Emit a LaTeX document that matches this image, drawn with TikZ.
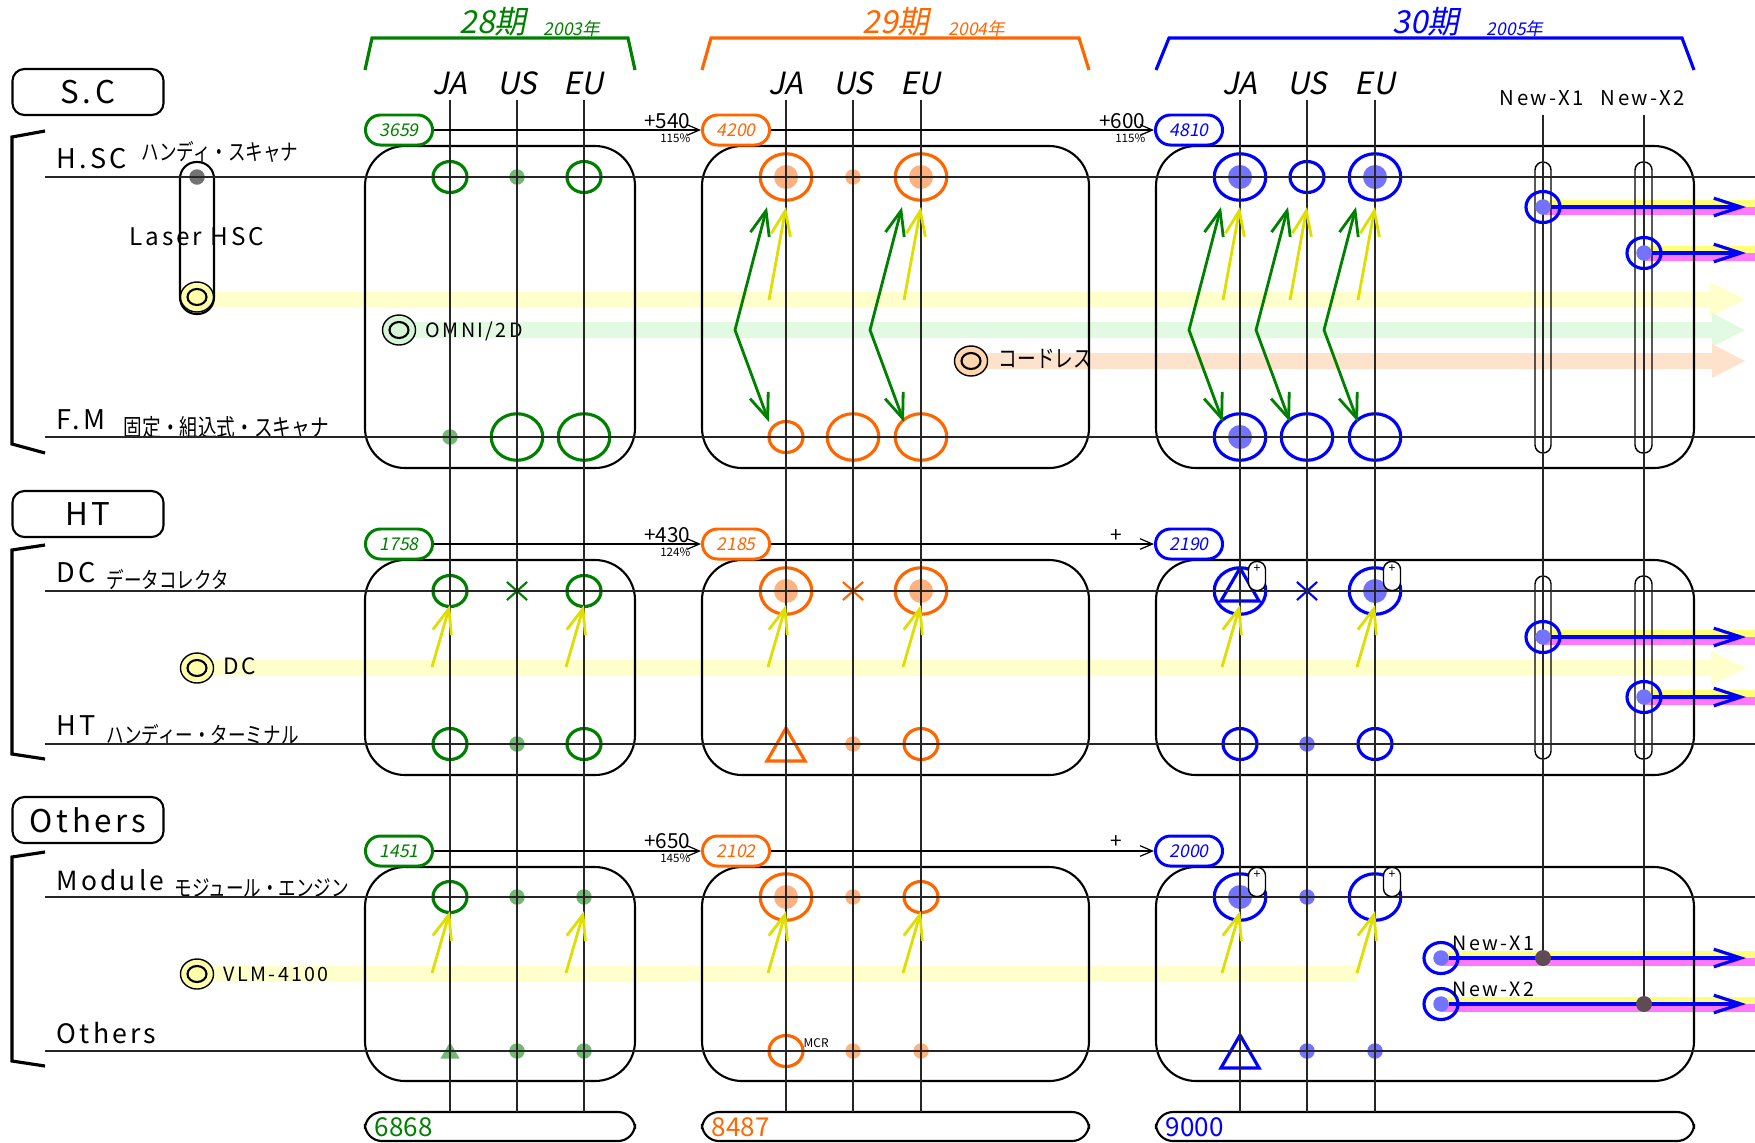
\documentclass[tikz,border=0pt]{standalone}
\usepackage{fontspec}
\setmainfont{Noto Sans CJK JP}
\newfontfamily\slfont[FakeSlant=0.2]{Noto Sans CJK JP}
\newfontfamily\spfont[LetterSpace=12]{Noto Sans CJK JP}
\newfontfamily\jpfont[FakeStretch=0.78]{Noto Sans CJK JP}
\usetikzlibrary{shapes.geometric,shapes.misc,arrows.meta}
\definecolor{cA}{RGB}{0,128,0}
\definecolor{cB}{RGB}{255,102,0}
\definecolor{cC}{RGB}{0,0,255}
\colorlet{dotA}{cA!55}
\colorlet{dotB}{cB!50}
\colorlet{dotC}{cC!55}
\definecolor{arrY}{RGB}{222,222,0}
\definecolor{bandY}{RGB}{255,255,204}
\definecolor{bandG}{RGB}{226,250,226}
\definecolor{bandO}{RGB}{255,226,204}
\definecolor{mkY}{RGB}{255,255,170}
\definecolor{mkG}{RGB}{214,245,214}
\definecolor{mkO}{RGB}{255,214,176}
\definecolor{newY}{RGB}{255,255,120}
\definecolor{newM}{RGB}{255,120,255}
\definecolor{dk}{RGB}{95,75,85}
\begin{document}
\begin{tikzpicture}[x=0.01cm,y=-0.01cm,
    fs/.style={font=\fontsize{#1}{#1}\selectfont},
    sl/.style={font=\slfont\fontsize{#1}{#1}\selectfont},
    sp/.style={font=\spfont\fontsize{#1}{#1}\selectfont},
    jp/.style={font=\jpfont\fontsize{#1}{#1}\selectfont},
    catbox/.style={draw,line width=0.6pt,rounded corners=0.12cm,minimum width=1.51cm,minimum height=0.46cm,inner sep=0pt,sp=8.9pt},
    badge/.style={draw=#1,text=#1,line width=0.85pt,rounded corners=0.15cm,minimum width=0.67cm,minimum height=0.30cm,inner sep=0pt,sl=5pt},
    panel/.style={line width=0.6pt,rounded corners=0.4cm},
    capsule/.style={line width=0.4pt,rounded corners=0.08cm},
    smallo/.style={ellipse,draw=#1,line width=0.9pt,minimum width=0.34cm,minimum height=0.31cm,inner sep=0pt},
    bigo/.style={ellipse,draw=#1,line width=0.9pt,minimum width=0.515cm,minimum height=0.465cm,inner sep=0pt},
    fdot/.style={circle,fill=#1,inner sep=0pt,minimum size=0.155cm},
    fcore/.style={circle,fill=#1,inner sep=0pt,minimum size=0.24cm},
    xmark/.style={cross out,draw=#1,line width=0.6pt,minimum width=0.18cm,minimum height=0.16cm,inner sep=0pt},
    tri/.style={regular polygon,regular polygon sides=3,inner sep=0pt,minimum size=0.44cm},
    mkr/.style={ellipse,draw,line width=0.4pt,fill=#1,minimum width=0.33cm,minimum height=0.30cm,inner sep=0pt,
      path picture={\draw[line width=0.6pt] (path picture bounding box.center) ellipse (0.095cm and 0.08cm);}},
    plusbox/.style={draw,fill=white,line width=0.4pt,rounded corners=0.08cm,minimum width=0.17cm,minimum height=0.29cm,inner sep=0pt},
    yarr/.style={arrY,line width=0.8pt,-{Straight Barb[length=7pt,width=5.5pt]}},
    garr/.style={cA,line width=0.8pt,{Straight Barb[length=7pt,width=5.5pt]}-{Straight Barb[length=7pt,width=5.5pt]}},
    narr/.style={cC,line width=0.9pt,-{Straight Barb[length=7.7pt,width=5pt]}},
    incr/.style={line width=0.35pt,-{Straight Barb[length=3.5pt,width=3pt]}},
    thinln/.style={line width=0.4pt,black!85},
    lbl/.style={anchor=base west,inner sep=0pt}
]
\useasboundingbox (0,0) rectangle (1755,1142);

% bands
\fill[bandY] (197,292) -- (1710,292) -- (1710,282) -- (1745,299.5) -- (1710,317) -- (1710,307) -- (197,307) -- cycle;
\fill[bandG] (399,322) -- (1712,322) -- (1712,313) -- (1745,330) -- (1712,347) -- (1712,338) -- (399,338) -- cycle;
\fill[bandO] (971,353) -- (1712,353) -- (1712,344) -- (1745,361) -- (1712,378) -- (1712,369) -- (971,369) -- cycle;
\fill[bandY] (197,660) -- (1711,660) -- (1711,651) -- (1746,668) -- (1711,685) -- (1711,676) -- (197,676) -- cycle;
\fill[bandY] (197,966) rectangle (1358,982);
\foreach \x/\y in {1543/207,1644/253,1543/637,1644/697,1441/958,1441/1004} {
  \fill[newY] (\x,\y-7) rectangle (1755,\y);
  \fill[newM] (\x,\y) rectangle (1755,\y+8);
}

% headers
\node[sl=9pt,text=cA] (pA) at (493,22) {28期};
\node[sl=5pt,text=cA,lbl] (yA) at (543,35) {2003年};
\node[sl=9pt,text=cB] (pB) at (896,22) {29期};
\node[sl=5pt,text=cB,lbl] (yB) at (948,35) {2004年};
\node[sl=9pt,text=cC] (pC) at (1426,22) {30期};
\node[sl=5pt,text=cC,lbl] (yC) at (1486,35) {2005年};
\draw[cA,line width=0.9pt] (365,70) -- (372,38) -- (628,38) -- (635,70);
\draw[cB,line width=0.9pt] (702,70) -- (711,38) -- (1079,38) -- (1089,70);
\draw[cC,line width=0.9pt] (1156,70) -- (1169,38) -- (1682,38) -- (1694,70);
\foreach \x/\t in {450/JA,517/US,584/EU,786/JA,853/US,921/EU,1240/JA,1307/US,1375/EU}
  \node[sl=8.7pt] (h\x) at (\x,83) {\t};
\node[sp=5.8pt] (hX1) at (1542,98) {New-X1};
\node[sp=5.8pt] (hX2) at (1643,98) {New-X2};

% left side
\node[catbox] (sc) at (88,92) {S.C};
\node[catbox] (ht) at (88,514) {HT};
\node[catbox] (ot) at (88,820) {Others};
\draw[line width=0.9pt] (45,131) -- (12,137) -- (12,444) -- (45,453);
\draw[line width=0.9pt] (45,545) -- (12,550) -- (12,754) -- (45,759);
\draw[line width=0.9pt] (45,852) -- (12,857) -- (12,1061) -- (45,1066);
\node[sp=7.7pt,lbl] (lHSC) at (56,168) {H.SC};
\node[jp=6.4pt,lbl] (jHSC) at (141,160) {ハンディ・スキャナ};
\node[sp=6.9pt,lbl] (lLaser) at (129,245) {Laser HSC};
\node[sp=7.7pt,lbl] (lFM) at (56,429) {F.M};
\node[jp=6.8pt,lbl] (jFM) at (123,436) {固定・組込式・スキャナ};
\node[sp=7.7pt,lbl] (lDC) at (56,582) {DC};
\node[jp=6.4pt,lbl] (jDC) at (106,588) {データコレクタ};
\node[sp=7.7pt,lbl] (lHT) at (56,735) {HT};
\node[jp=6.4pt,lbl] (jHT) at (106,743) {ハンディー・ターミナル};
\node[sp=7.5pt,lbl] (lMod) at (56,890) {Module};
\node[jp=6.4pt,lbl] (jMod) at (174,896) {モジュール・エンジン};
\node[sp=7.6pt,lbl] (lOth) at (56,1043) {Others};

% panels
\foreach \xa/\xb in {365/635,702/1089,1156/1694} {
  \foreach \ya/\yb in {146/468,560/775,867/1081}
    \draw[panel] (\xa,\ya) rectangle (\xb,\yb);
  \draw[line width=0.6pt,rounded corners=0.17cm] (\xa,1112) rectangle (\xb,1141);
}
\draw[line width=0.6pt,rounded corners=0.165cm] (180,162) rectangle (214,314);
\draw[capsule] (1535,162) rectangle (1551,453);
\draw[capsule] (1635,162) rectangle (1652,453);
\draw[capsule] (1535,576) rectangle (1551,759);
\draw[capsule] (1635,576) rectangle (1652,759);

% markers 28
\node[smallo=cA] (sAja) at (450,177) {};
\node[fdot=dotA] (sAus) at (517,177) {};
\node[smallo=cA] (sAeu) at (584,177) {};
\node[fdot=dotA] (fAja) at (450,437) {};
\node[bigo=cA] (fAus) at (517,437) {};
\node[bigo=cA] (fAeu) at (584,437) {};
\node[smallo=cA] (dAja) at (450,591) {};
\node[xmark=cA] (dAus) at (517,591) {};
\node[smallo=cA] (dAeu) at (584,591) {};
\node[smallo=cA] (hAja) at (450,744) {};
\node[fdot=dotA] (hAus) at (517,744) {};
\node[smallo=cA] (hAeu) at (584,744) {};
\node[smallo=cA] (mAja) at (450,897) {};
\node[fdot=dotA] (mAus) at (517,897) {};
\node[fdot=dotA] (mAeu) at (584,897) {};
\node[tri,fill=dotA,minimum size=0.22cm] (oAja) at (450,1053) {};
\node[fdot=dotA] (oAus) at (517,1051) {};
\node[fdot=dotA] (oAeu) at (584,1051) {};

% markers 29
\node[fcore=dotB] (sBjac) at (786,177) {};
\node[bigo=cB] (sBja) at (786,177) {};
\node[fdot=dotB] (sBus) at (853,177) {};
\node[fcore=dotB] (sBeuc) at (921,177) {};
\node[bigo=cB] (sBeu) at (921,177) {};
\node[smallo=cB] (fBja) at (786,437) {};
\node[bigo=cB] (fBus) at (853,437) {};
\node[bigo=cB] (fBeu) at (921,437) {};
\node[fcore=dotB] (dBjac) at (786,591) {};
\node[bigo=cB] (dBja) at (786,591) {};
\node[xmark=cB] (dBus) at (853,591) {};
\node[fcore=dotB] (dBeuc) at (921,591) {};
\node[bigo=cB] (dBeu) at (921,591) {};
\node[tri,draw=cB,line width=0.9pt] (hBja) at (786,750) {};
\node[fdot=dotB] (hBus) at (853,744) {};
\node[smallo=cB] (hBeu) at (921,744) {};
\node[fcore=dotB] (mBjac) at (786,897) {};
\node[bigo=cB] (mBja) at (786,897) {};
\node[fdot=dotB] (mBus) at (853,897) {};
\node[smallo=cB] (mBeu) at (921,897) {};
\node[smallo=cB] (oBja) at (786,1051) {};
\node[fs=3.4pt,lbl] (mcr) at (803,1047) {MCR};
\node[fdot=dotB] (oBus) at (853,1051) {};
\node[fdot=dotB] (oBeu) at (921,1051) {};

% markers 30
\node[fcore=dotC] (sCjac) at (1240,177) {};
\node[bigo=cC] (sCja) at (1240,177) {};
\node[smallo=cC] (sCus) at (1307,177) {};
\node[fcore=dotC] (sCeuc) at (1375,177) {};
\node[bigo=cC] (sCeu) at (1375,177) {};
\node[fcore=dotC] (fCjac) at (1240,437) {};
\node[bigo=cC] (fCja) at (1240,437) {};
\node[bigo=cC] (fCus) at (1307,437) {};
\node[bigo=cC] (fCeu) at (1375,437) {};
\node[bigo=cC] (dCja) at (1240,591) {};
\node[tri,draw=cC,line width=0.9pt] (dCjat) at (1240,590) {};
\node[xmark=cC] (dCus) at (1307,591) {};
\node[fcore=dotC] (dCeuc) at (1375,591) {};
\node[bigo=cC] (dCeu) at (1375,591) {};
\node[smallo=cC] (hCja) at (1240,744) {};
\node[fdot=dotC] (hCus) at (1307,744) {};
\node[smallo=cC] (hCeu) at (1375,744) {};
\node[fcore=dotC] (mCjac) at (1240,897) {};
\node[bigo=cC] (mCja) at (1240,897) {};
\node[fdot=dotC] (mCus) at (1307,897) {};
\node[bigo=cC] (mCeu) at (1375,897) {};
\node[tri,draw=cC,line width=0.9pt] (oCja) at (1240,1057) {};
\node[fdot=dotC] (oCus) at (1307,1051) {};
\node[fdot=dotC] (oCeu) at (1375,1051) {};

% side markers
\node[fdot=black!55] (lz) at (197,177) {};
\node[mkr=mkY] (mLaser) at (197,297) {};
\node[mkr=mkG] (mOmni) at (399,330) {};
\node[sp=5.6pt,lbl] (tOmni) at (425,337) {OMNI/2D};
\node[mkr=mkO] (mCord) at (971,361) {};
\node[jp=6.8pt,lbl] (tCord) at (998,367) {コードレス};
\node[mkr=mkY] (mDC) at (197,668) {};
\node[sp=6.4pt,lbl] (tDC) at (223,674) {DC};
\node[mkr=mkY] (mVLM) at (197,974) {};
\node[sp=5.6pt,lbl] (tVLM) at (223,981) {VLM-4100};

% grid lines
\foreach \x in {450,517,584,786,853,921,1240,1307,1375}
  \draw[thinln] (\x,100) -- (\x,1112);
\draw[thinln] (1543,115) -- (1543,958);
\draw[thinln] (1644,115) -- (1644,1004);
\foreach \y in {177,437,591,744,897,1051}
  \draw[thinln] (45,\y) -- (1755,\y);

% plus boxes
\foreach \n/\x/\y in {qa/1257/576,qb/1392/576,qc/1257/882,qd/1392/882} {
  \node[plusbox] (\n) at (\x,\y) {};
  \node[fs=3.5pt,inner sep=0pt] (\n-p) at ([shift={(0,8)}]\n.north) {+};
}

% new products
\foreach \n/\x/\y in {xa/1543/207,xb/1644/253,xc/1543/637,xd/1644/697,xe/1441/958,xf/1441/1004} {
  \node[fdot=dotC] (\n-c) at (\x,\y) {};
  \node[smallo=cC] (\n) at (\x,\y) {};
  \coordinate (\n-e) at (1746,\y);
  \draw[narr] (\n-c.east) -- (\n-e);
}
\node[fdot=dk,minimum size=0.16cm] (ke) at (1543,958) {};
\node[fdot=dk,minimum size=0.16cm] (kf) at (1644,1004) {};
\node[sp=5.6pt,lbl] (le) at (1452,950) {New-X1};
\node[sp=5.6pt,lbl] (lf) at (1452,996) {New-X2};

% arrows
\foreach \n in {sBja,sBeu,sCja,sCus,sCeu}
  \draw[yarr] ([shift={(-17,123)}]\n.center) -- ([shift={(0,30)}]\n.center);
\foreach \n in {dAja,dAeu,dBja,dBeu,dCja,dCeu,mAja,mAeu,mBja,mBeu,mCja,mCeu}
  \draw[yarr] ([shift={(-18,76)}]\n.center) -- ([shift={(0,14)}]\n.center);
\foreach \a/\b in {sBja/fBja,sBeu/fBeu,sCja/fCja,sCus/fCus,sCeu/fCeu}
  \draw[garr] ([shift={(-19,30)}]\a.center) -- ([shift={(-51,153)}]\a.center) -- ([shift={(-17,-15)}]\b.center);

% numbers
\node[badge=cA] (nA1) at (399,130) {3659};
\node[badge=cB] (nB1) at (736,130) {4200};
\node[badge=cC] (nC1) at (1189,130) {4810};
\node[badge=cA] (nA2) at (399,544) {1758};
\node[badge=cB] (nB2) at (736,544) {2185};
\node[badge=cC] (nC2) at (1189,544) {2190};
\node[badge=cA] (nA3) at (399,851) {1451};
\node[badge=cB] (nB3) at (736,851) {2102};
\node[badge=cC] (nC3) at (1189,851) {2000};
\draw[incr] (nA1) -- (nB1);
\draw[incr] (nB1) -- (nC1);
\draw[incr] (nA2) -- (nB2);
\draw[incr] (nB2) -- (nC2);
\draw[incr] (nA3) -- (nB3);
\draw[incr] (nB3) -- (nC3);
\node[fs=5.9pt,anchor=base east,inner sep=0pt] (iA1) at (691,128) {+540};
\node[fs=3.3pt,anchor=base east,inner sep=0pt] (rA1) at (691,142) {115\%};
\node[fs=5.9pt,anchor=base east,inner sep=0pt] (iB1) at (1146,128) {+600};
\node[fs=3.3pt,anchor=base east,inner sep=0pt] (rB1) at (1146,142) {115\%};
\node[fs=5.9pt,anchor=base east,inner sep=0pt] (iA2) at (691,542) {+430};
\node[fs=3.3pt,anchor=base east,inner sep=0pt] (rA2) at (691,556) {124\%};
\node[fs=5.9pt,anchor=base,inner sep=0pt] (iB2) at (1116,542) {+};
\node[fs=5.9pt,anchor=base east,inner sep=0pt] (iA3) at (691,848) {+650};
\node[fs=3.3pt,anchor=base east,inner sep=0pt] (rA3) at (691,862) {145\%};
\node[fs=5.9pt,anchor=base,inner sep=0pt] (iB3) at (1116,848) {+};

% totals
\node[fs=7.4pt,text=cA,anchor=west,inner sep=0pt] (tA) at (374,1127) {6868};
\node[fs=7.4pt,text=cB,anchor=west,inner sep=0pt] (tB) at (711,1127) {8487};
\node[fs=7.4pt,text=cC,anchor=west,inner sep=0pt] (tC) at (1165,1127) {9000};
\end{tikzpicture}
\end{document}
